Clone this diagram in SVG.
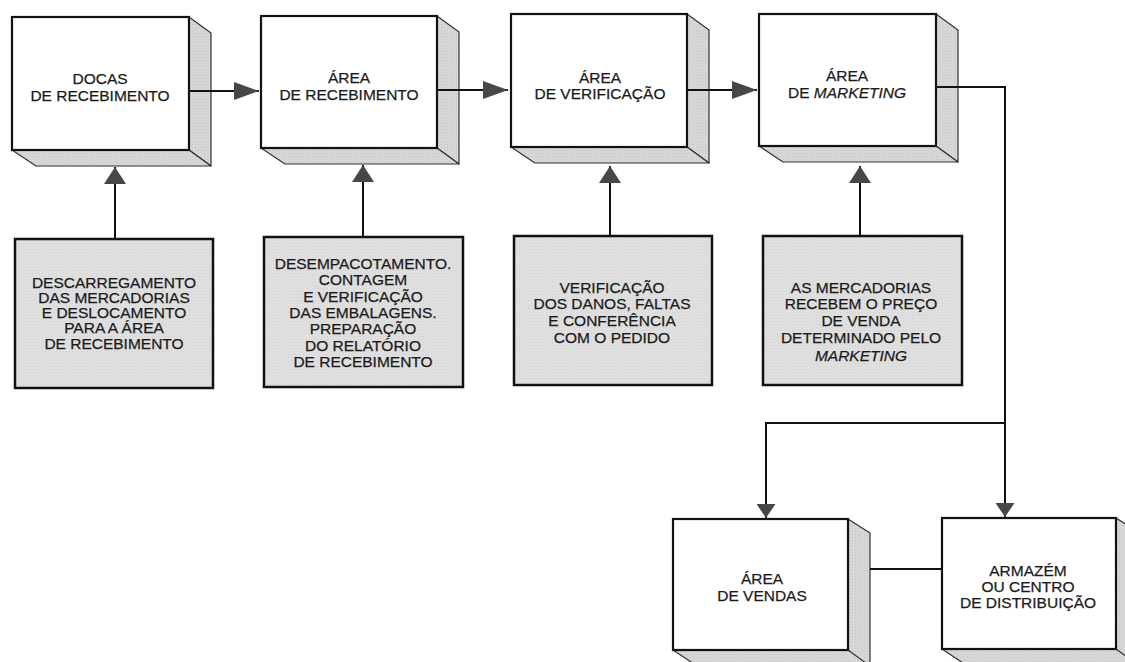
<svg xmlns="http://www.w3.org/2000/svg" width="1125" height="662" viewBox="0 0 1125 662">
  <style>
    .front { fill: #ffffff; stroke: #111; stroke-width: 2.2; }
    .face { fill: url(#stipple); stroke: #333; stroke-width: 1.2; stroke-linejoin: round; }
    .note { fill: url(#stippleLight); stroke: #111; stroke-width: 2.5; }
    .wire { fill: none; stroke: #111; stroke-width: 2; }
    .lbl { font-family: "Liberation Sans", Arial, sans-serif; font-size: 15.5px; fill: #1a1a1a; stroke: #1a1a1a; stroke-width: 0.25; text-anchor: middle; }
    .it { font-style: italic; }
  </style>
  <defs>
    <pattern id="stipple" width="3" height="3" patternUnits="userSpaceOnUse">
      <rect width="3" height="3" fill="#d9d9d9"/>
      <rect x="0" y="0" width="1" height="1" fill="#c2c2c2"/>
      <rect x="1.5" y="1.5" width="1" height="1" fill="#cbcbcb"/>
    </pattern>
    <pattern id="stippleLight" width="3" height="3" patternUnits="userSpaceOnUse">
      <rect width="3" height="3" fill="#e1e1e1"/>
      <rect x="0" y="0" width="1" height="1" fill="#cfcfcf"/>
      <rect x="1.5" y="1.5" width="1" height="1" fill="#d6d6d6"/>
    </pattern>
    <marker id="headH" viewBox="0 0 25 18" refX="25" refY="9" markerWidth="25" markerHeight="18" markerUnits="userSpaceOnUse" orient="auto">
      <path d="M0,0 L25,9 L0,18 Z" fill="#474747"/>
    </marker>
    <marker id="headV" viewBox="0 0 17 22" refX="17" refY="11" markerWidth="17" markerHeight="22" markerUnits="userSpaceOnUse" orient="auto">
      <path d="M0,0 L17,11 L0,22 Z" fill="#474747"/>
    </marker>
    <marker id="headD" viewBox="0 0 14 19" refX="14" refY="9.5" markerWidth="14" markerHeight="19" markerUnits="userSpaceOnUse" orient="auto">
      <path d="M0,0 L14,9.5 L0,19 Z" fill="#474747"/>
    </marker>
  </defs>

  <rect width="1125" height="662" fill="#ffffff"/>

  <!-- 3D process blocks -->
  <g id="docas">
    <polygon class="face" points="189,17 211,33 211,166 189,150"/>
    <polygon class="face" points="12,150 189,150 211,166 36,166"/>
    <rect class="front" x="12" y="17" width="177" height="133"/>
    <text class="lbl" x="100" y="83.5">DOCAS</text>
    <text class="lbl" x="100" y="100.5">DE RECEBIMENTO</text>
  </g>

  <g id="area-recebimento">
    <polygon class="face" points="437,16 459,32 459,164 437,148"/>
    <polygon class="face" points="261,148 437,148 459,164 285,164"/>
    <rect class="front" x="261" y="16" width="176" height="132"/>
    <text class="lbl" x="349" y="82.5">ÁREA</text>
    <text class="lbl" x="349" y="99.5">DE RECEBIMENTO</text>
  </g>

  <g id="area-verificacao">
    <polygon class="face" points="687,14 709,30 709,163 687,147"/>
    <polygon class="face" points="511,147 687,147 709,163 535,163"/>
    <rect class="front" x="511" y="14" width="176" height="133"/>
    <text class="lbl" x="600" y="82.5">ÁREA</text>
    <text class="lbl" x="600" y="98.5">DE VERIFICAÇÃO</text>
  </g>

  <g id="area-marketing">
    <polygon class="face" points="936,14 958,30 958,162 936,146"/>
    <polygon class="face" points="759,146 936,146 958,162 783,162"/>
    <rect class="front" x="759" y="14" width="177" height="132"/>
    <text class="lbl" x="847" y="80.5">ÁREA</text>
    <text class="lbl" x="847" y="97.5">DE <tspan class="it">MARKETING</tspan></text>
  </g>

  <g id="area-vendas">
    <polygon class="face" points="848,519 870,533 870,670 848,650"/>
    <polygon class="face" points="673,650 848,650 870,666 697,666"/>
    <rect class="front" x="673" y="519" width="175" height="131"/>
    <text class="lbl" x="762" y="583.5">ÁREA</text>
    <text class="lbl" x="762" y="600.5">DE VENDAS</text>
  </g>

  <g id="armazem">
    <polygon class="face" points="1116,518 1138,532 1138,670 1116,649"/>
    <polygon class="face" points="942,649 1116,649 1138,665 966,665"/>
    <rect class="front" x="942" y="518" width="174" height="131"/>
    <text class="lbl" x="1028" y="575.5">ARMAZÉM</text>
    <text class="lbl" x="1028" y="592">OU CENTRO</text>
    <text class="lbl" x="1028" y="608">DE DISTRIBUIÇÃO</text>
  </g>

  <!-- activity descriptions -->
  <g id="nota-descarregamento">
    <rect class="note" x="15" y="239" width="198" height="149"/>
    <text class="lbl" x="114" y="287.5">DESCARREGAMENTO</text>
    <text class="lbl" x="114" y="302.5">DAS MERCADORIAS</text>
    <text class="lbl" x="114" y="317.5">E DESLOCAMENTO</text>
    <text class="lbl" x="114" y="332.5">PARA A ÁREA</text>
    <text class="lbl" x="114" y="348.5">DE RECEBIMENTO</text>
  </g>

  <g id="nota-desempacotamento">
    <rect class="note" x="264" y="237" width="199" height="150"/>
    <text class="lbl" x="363" y="268.5">DESEMPACOTAMENTO.</text>
    <text class="lbl" x="363" y="285">CONTAGEM</text>
    <text class="lbl" x="363" y="301.5">E VERIFICAÇÃO</text>
    <text class="lbl" x="363" y="317.5">DAS EMBALAGENS.</text>
    <text class="lbl" x="363" y="334">PREPARAÇÃO</text>
    <text class="lbl" x="363" y="350.5">DO RELATÓRIO</text>
    <text class="lbl" x="363" y="367">DE RECEBIMENTO</text>
  </g>

  <g id="nota-verificacao">
    <rect class="note" x="514" y="236" width="198" height="149"/>
    <text class="lbl" x="612" y="292.5">VERIFICAÇÃO</text>
    <text class="lbl" x="612" y="308.5">DOS DANOS, FALTAS</text>
    <text class="lbl" x="612" y="325.5">E CONFERÊNCIA</text>
    <text class="lbl" x="612" y="342.5">COM O PEDIDO</text>
  </g>

  <g id="nota-preco">
    <rect class="note" x="763" y="236" width="199" height="149"/>
    <text class="lbl" x="861" y="292.5">AS MERCADORIAS</text>
    <text class="lbl" x="861" y="308.5">RECEBEM O PREÇO</text>
    <text class="lbl" x="861" y="325.5">DE VENDA</text>
    <text class="lbl" x="861" y="342.5">DETERMINADO PELO</text>
    <text class="lbl it" x="861" y="360.5">MARKETING</text>
  </g>

  <!-- connectors -->
  <g id="connectors">
    <path class="wire" d="M189,91 H259" marker-end="url(#headH)"/>
    <path class="wire" d="M437,90 H508" marker-end="url(#headH)"/>
    <path class="wire" d="M687,90 H757" marker-end="url(#headH)"/>

    <path class="wire" d="M115,239 V167" marker-end="url(#headV)"/>
    <path class="wire" d="M363,237 V165" marker-end="url(#headV)"/>
    <path class="wire" d="M610,236 V166" marker-end="url(#headV)"/>
    <path class="wire" d="M860,236 V166" marker-end="url(#headV)"/>

    <path class="wire" d="M936,87 H1005 V517" marker-end="url(#headD)"/>
    <path class="wire" d="M1005,423 H766 V518" marker-end="url(#headD)"/>

    <path class="wire" d="M870,569 H942"/>
  </g>
</svg>
